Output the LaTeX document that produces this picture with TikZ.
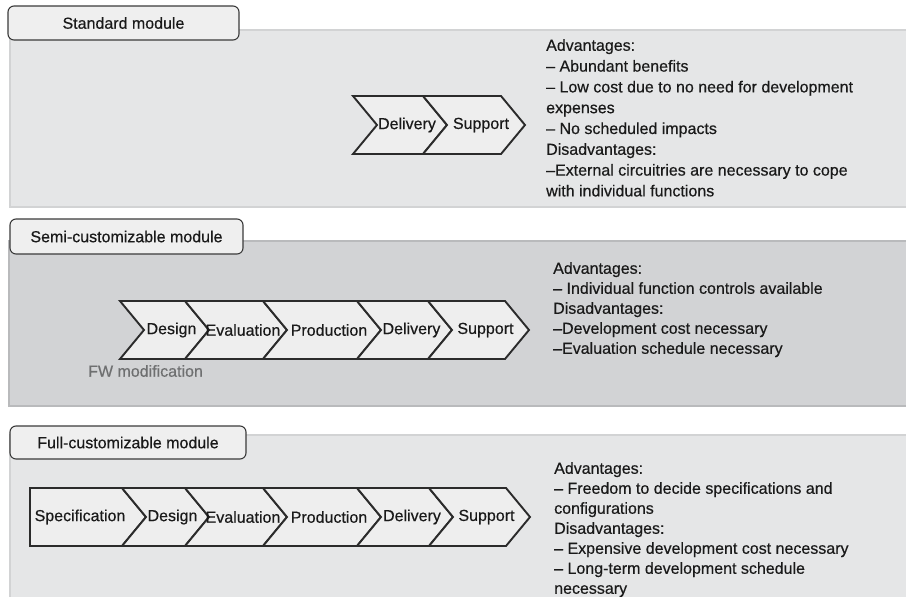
\documentclass[tikz,border=0pt]{standalone}
\usepackage{fontspec}
\setmainfont{Liberation Sans}[FakeBold=0.45]
\definecolor{panelLight}{HTML}{E5E6E7}
\definecolor{panelLine}{HTML}{D2D3D4}
\definecolor{panelDark}{HTML}{D2D3D5}
\definecolor{panelLineDark}{HTML}{B9BABC}
\definecolor{tabFill}{HTML}{EFEFEF}
\definecolor{tabLine}{HTML}{3A3A3A}
\definecolor{chevFill}{HTML}{EEEEEE}
\definecolor{chevLine}{HTML}{2B2B2B}
\definecolor{ink}{HTML}{1A1A1A}
\definecolor{fwgray}{HTML}{6E6F70}
\newcommand{\chevshape}[5]{% name, left, right, center y, label
  \draw[chev] (#2,#4-29) -- (#3,#4-29) -- (#3+24,#4) -- (#3,#4+29) -- (#2,#4+29) -- (#2+24,#4) -- cycle;
  \node[chevtext] (#1) at ({(#2+#3)/2+19},#4) {#5};}
\begin{document}
\begin{tikzpicture}[x=1pt,y=-1pt,
  panelA/.style={fill=panelLight, draw=panelLine, line width=1.2pt},
  panelB/.style={fill=panelDark, draw=panelLineDark, line width=1.2pt},
  tabbox/.style={fill=tabFill, draw=tabLine, line width=1.1pt, rounded corners=6pt, inner sep=0pt, text=ink, font=\fontsize{16}{19}\selectfont},
  chev/.style={fill=chevFill, draw=chevLine, line width=1.9pt, line join=miter},
  chevtext/.style={font=\fontsize{16}{19}\selectfont, text=ink, inner sep=0pt},
  notes/.style={text=ink, align=left, anchor=north west, inner sep=0pt}
]
\useasboundingbox (0,0) rectangle (906,597);
\clip (0,0) rectangle (906,597);

% ---------- panels ----------
\path[panelA] (10,30) rectangle (915,207);
\path[panelB] (9,241) rectangle (915,406);
\path[panelA] (10,435) rectangle (915,610);

% ---------- tabs ----------
\node[tabbox, minimum width=231pt, minimum height=34pt] (tab1) at (123.5,23) {Standard module};
\node[tabbox, minimum width=233pt, minimum height=35pt] (tab2) at (126.5,236.5) {Semi-customizable module};
\node[tabbox, minimum width=236pt, minimum height=33pt] (tab3) at (128,442.5) {Full-customizable module};

% ---------- Standard module chevrons ----------
\chevshape{sdel}{353}{423}{125}{Delivery}
\chevshape{ssup}{423}{501}{125}{Support}

% ---------- Semi-customizable chevrons ----------
\chevshape{mdes}{120}{185}{330}{Design}
\chevshape{meva}{185}{263}{330}{Evaluation}
\chevshape{mpro}{263}{357}{330}{Production}
\chevshape{mdel}{357}{428}{330}{Delivery}
\chevshape{msup}{428}{505}{330}{Support}
\node[chevtext, text=fwgray, anchor=west] (fw) at (88,371) {FW modification};

% ---------- Full-customizable chevrons ----------
\draw[chev] (30,488) -- (122,488) -- (146,517) -- (122,546) -- (30,546) -- cycle;
\node[chevtext] (fspec) at (80,517) {Specification};
\chevshape{fdes}{122}{185}{517}{Design}
\chevshape{feva}{185}{263}{517}{Evaluation}
\chevshape{fpro}{263}{357}{517}{Production}
\chevshape{fdel}{357}{429}{517}{Delivery}
\chevshape{fsup}{429}{506}{517}{Support}

% ---------- notes ----------
\node[notes, font=\fontsize{16}{20.8}\selectfont] (note1) at (546,39) {Advantages:\\
– Abundant benefits\\
– Low cost due to no need for development\\
expenses\\
– No scheduled impacts\\
Disadvantages:\\
–External circuitries are necessary to cope\\
with individual functions};

\node[notes, font=\fontsize{16}{20}\selectfont] (note2) at (553,262) {Advantages:\\
– Individual function controls available\\
Disadvantages:\\
–Development cost necessary\\
–Evaluation schedule necessary};

\node[notes, font=\fontsize{16}{20}\selectfont] (note3) at (554,462) {Advantages:\\
– Freedom to decide specifications and\\
configurations\\
Disadvantages:\\
– Expensive development cost necessary\\
– Long-term development schedule\\
necessary};
\end{tikzpicture}
\end{document}
